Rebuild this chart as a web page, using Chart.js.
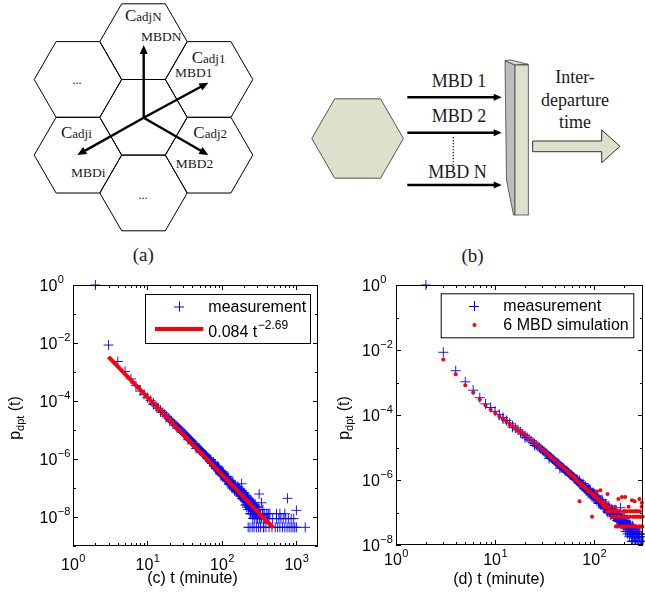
<!DOCTYPE html>
<html>
<head>
<meta charset="utf-8">
<script src="https://cdn.jsdelivr.net/npm/chart.js@4.4.1/dist/chart.umd.min.js"></script>
<style>
  html, body { margin: 0; padding: 0; background: #fff; }
  #page { position: relative; width: 645px; height: 593px; overflow: hidden; }
  #diagrams { position: absolute; left: 0; top: 0; }
  .box { position: absolute; top: 270px; height: 323px; }
  #boxC { left: 0; width: 330px; }
  #boxD { left: 330px; width: 315px; }
</style>
</head>
<body>
<div id="page">
  <svg id="diagrams" width="645" height="270" xmlns="http://www.w3.org/2000/svg"></svg>
  <div class="box" id="boxC"><canvas id="chartC" width="330" height="323"></canvas></div>
  <div class="box" id="boxD"><canvas id="chartD" width="315" height="323"></canvas></div>
</div>
<script>
'use strict';

/* ── data: [t (minute), p_dpt(t)] ── */
const measHead = [
  [2, 1.0], [3, 8.5e-3], [4, 2.3e-3], [5, 1.05e-3], [6, 5.8e-4], [7, 3.4e-4], [8, 2.2e-4], [9, 1.7e-4],
  [10, 1.3e-4], [11, 1.05e-4], [12, 8.4e-5], [12, 7.5e-5], [13, 6.8e-5], [14, 5.6e-5], [15, 4.7e-5],
  [15, 4.2e-5], [16, 4.0e-5], [17, 3.5e-5], [18, 3.0e-5], [19, 2.6e-5], [20, 2.3e-5], [20, 2.0e-5],
  [21, 2.05e-5], [22, 1.8e-5], [23, 1.62e-5], [24, 1.45e-5], [25, 1.32e-5], [25, 1.15e-5], [26, 1.2e-5],
  [27, 1.08e-5], [28, 9.9e-6], [29, 9.1e-6], [30, 8.3e-6], [31, 7.7e-6], [32, 7.0e-6], [33, 6.5e-6],
  [34, 6.0e-6], [35, 5.5e-6], [35, 4.6e-6], [36, 5.1e-6], [37, 4.8e-6], [38, 4.4e-6], [39, 4.15e-6],
  [40, 3.9e-6], [41, 3.5e-6], [42, 3.4e-6], [43, 3.3e-6], [44, 3.0e-6], [45, 2.8e-6], [45, 2.3e-6],
  [46, 2.65e-6], [47, 2.4e-6], [48, 2.35e-6], [49, 2.3e-6], [50, 2.1e-6], [51, 1.9e-6], [52, 1.95e-6],
  [53, 1.9e-6], [54, 1.75e-6], [55, 1.65e-6], [56, 1.6e-6], [57, 1.45e-6], [58, 1.45e-6], [59, 1.4e-6],
  [60, 1.3e-6]
];
const measBody = [
  [62, 1.25e-6], [63, 1.1e-6], [64, 1.1e-6], [65, 1.05e-6], [66, 1.02e-6], [67, 1.05e-6], [68, 9.4e-7],
  [69, 8.3e-7], [70, 8.6e-7], [71, 9.6e-7], [72, 8.0e-7], [73, 7.0e-7], [74, 7.2e-7], [75, 7.0e-7],
  [76, 6.9e-7], [77, 7.8e-7], [78, 6.2e-7], [79, 5.5e-7], [80, 6.0e-7], [81, 6.6e-7], [82, 5.4e-7],
  [83, 4.6e-7], [84, 5.2e-7], [85, 4.8e-7], [86, 4.9e-7], [87, 5.6e-7], [88, 4.4e-7], [89, 3.9e-7],
  [90, 4.3e-7], [90, 5.2e-7], [91, 4.8e-7], [92, 4.0e-7], [93, 3.5e-7], [94, 3.6e-7], [95, 3.9e-7],
  [95, 3.0e-7], [96, 3.4e-7], [97, 4.0e-7], [98, 3.2e-7], [99, 2.8e-7], [100, 3.3e-7], [101, 3.7e-7],
  [102, 2.6e-7], [103, 2.9e-7], [105, 2.7e-7], [105, 3.2e-7], [107, 3.0e-7], [108, 2.6e-7], [110, 2.3e-7],
  [110, 1.9e-7], [112, 2.4e-7], [113, 2.0e-7], [115, 2.0e-7], [116, 2.4e-7], [117, 1.7e-7], [118, 1.9e-7],
  [120, 2.0e-7], [120, 2.5e-7], [122, 2.1e-7], [123, 1.7e-7], [125, 1.65e-7], [125, 1.4e-7], [127, 1.3e-7],
  [128, 1.5e-7], [130, 1.55e-7], [130, 1.8e-7], [132, 1.6e-7], [133, 1.35e-7], [135, 1.4e-7], [135, 1.1e-7],
  [137, 1.0e-7], [138, 1.2e-7], [140, 1.3e-7], [140, 1.6e-7], [142, 1.35e-7], [143, 1.1e-7], [145, 1.15e-7],
  [145, 9.2e-8], [147, 8.4e-8], [148, 1.0e-7], [150, 1.05e-7], [150, 1.3e-7], [152, 1.1e-7], [155, 9.2e-8],
  [157, 7.5e-8], [158, 8.8e-8], [160, 9.6e-8], [160, 7.5e-8], [162, 1.0e-7], [163, 7.9e-8], [165, 8.3e-8],
  [165, 1.1e-7], [167, 6.6e-8], [170, 7.0e-8], [170, 5.7e-8], [172, 7.5e-8], [173, 9.2e-8], [175, 6.6e-8],
  [175, 8.8e-8], [177, 5.3e-8], [178, 6.1e-8], [180, 7.0e-8], [180, 5.3e-8], [182, 7.9e-8], [184, 1.4e-7],
  [185, 5.7e-8], [185, 8.0e-8], [187, 4.4e-8], [188, 5.3e-8], [190, 6.1e-8], [190, 4.4e-8], [192, 6.6e-8],
  [195, 4.8e-8], [195, 7.0e-8], [197, 3.9e-8], [198, 5.3e-8], [200, 4.4e-8]
];
const measTail = [
  [202, 6.6e-8], [204, 3.5e-8], [205, 4.8e-8], [207, 2.6e-8], [208, 5.7e-8], [210, 3.5e-8], [211, 5.3e-8],
  [212, 4.4e-8], [214, 2.6e-8], [215, 3.1e-8], [216, 2.2e-8], [218, 3.9e-8], [219, 4.8e-8], [220, 2.6e-8],
  [222, 3.5e-8], [224, 4.4e-8], [225, 3.1e-8], [225, 4.4e-9], [226, 1.8e-8], [228, 2.2e-8], [229, 3.9e-8],
  [230, 3.5e-8], [232, 2.6e-8], [234, 3.1e-8], [235, 2.2e-8], [236, 2.6e-8], [238, 1.3e-8], [238, 4.4e-9],
  [240, 3.1e-8], [242, 1.3e-8], [243, 2.2e-8], [244, 3.9e-8], [245, 1.8e-8], [246, 3.5e-8], [248, 2.6e-8],
  [250, 2.2e-8], [252, 1.3e-8], [255, 1.8e-8], [255, 4.4e-9], [257, 3.1e-8], [258, 2.6e-8], [260, 1.3e-8],
  [260, 8.8e-9], [262, 3.1e-8], [264, 1.3e-8], [265, 2.2e-8], [268, 2.6e-8], [270, 1.8e-8], [270, 4.4e-9],
  [272, 2.2e-8], [275, 1.3e-8], [276, 8.8e-9], [278, 2.6e-8], [280, 2.2e-8], [282, 1.3e-8], [285, 1.8e-8],
  [288, 2.2e-8], [290, 1.3e-8], [290, 4.4e-9], [295, 8.8e-9], [300, 1.8e-8], [300, 8.8e-9], [305, 2.2e-8],
  [310, 1.3e-8], [310, 4.4e-9], [315, 1.8e-8], [316, 6.2e-8], [320, 8.8e-9], [325, 1.3e-8], [330, 1.3e-8],
  [330, 4.4e-9], [335, 8.8e-9], [340, 3.1e-8], [340, 8.8e-9], [350, 1.3e-8], [355, 1.8e-8], [360, 8.8e-9],
  [360, 4.4e-9], [365, 4.4e-9], [370, 1.3e-8], [375, 8.8e-9], [380, 8.8e-9], [390, 4.4e-9], [395, 8.8e-9],
  [400, 1.3e-8], [410, 8.8e-9], [420, 1.3e-8], [430, 4.4e-9], [430, 8.8e-9], [440, 1.3e-8], [470, 4.4e-9],
  [480, 8.8e-9], [520, 4.4e-9], [540, 8.8e-9], [540, 1.3e-8], [560, 4.4e-9], [580, 8.8e-9], [600, 4.4e-9],
  [600, 1.3e-8], [620, 8.8e-9], [650, 4.4e-9], [665, 8.8e-9], [700, 4.4e-9], [700, 1.3e-8], [720, 8.8e-9],
  [750, 4.4e-9], [760, 4.4e-8], [780, 8.8e-9], [800, 4.4e-9], [850, 4.4e-9], [850, 8.8e-9], [900, 4.4e-9],
  [920, 8.8e-9], [950, 4.4e-9], [1000, 4.4e-9], [1000, 1.7e-8], [1313, 4.4e-9]
];
const simHead = [
  [3, 5.1e-3], [4, 1.8e-3], [5, 8.3e-4], [6, 4.9e-4], [7, 3.0e-4], [8, 2.0e-4], [9, 1.45e-4], [10, 1.15e-4],
  [11, 9.3e-5], [12, 7.6e-5], [13, 6.4e-5], [14, 5.4e-5], [15, 4.6e-5], [16, 4.0e-5], [17, 3.4e-5],
  [18, 3.0e-5], [19, 2.65e-5], [20, 2.35e-5], [22, 1.85e-5], [24, 1.5e-5], [26, 1.25e-5], [28, 1.05e-5],
  [30, 8.6e-6], [32, 7.4e-6], [34, 6.2e-6], [36, 5.4e-6], [38, 4.6e-6], [40, 4.0e-6]
];
const simBody = [
  [43, 3.3e-6], [45, 2.9e-6], [46, 2.8e-6], [48, 2.5e-6], [50, 2.2e-6], [53, 1.9e-6], [55, 1.75e-6],
  [56, 1.6e-6], [58, 1.45e-6], [60, 1.35e-6], [62, 1.25e-6], [63, 1.15e-6], [65, 1.1e-6], [66, 1.0e-6],
  [68, 9.2e-7], [70, 8.6e-7], [71, 2.2e-7], [72, 8.0e-7], [73, 7.7e-7], [75, 7.0e-7], [76, 6.6e-7],
  [78, 6.4e-7], [80, 5.9e-7], [82, 5.5e-7], [84, 5.2e-7], [86, 4.8e-7], [88, 4.4e-7], [90, 4.4e-7],
  [92, 4.1e-7], [95, 7.4e-8], [96, 3.7e-7], [98, 3.3e-7], [100, 3.3e-7], [102, 3.0e-7], [104, 3.0e-7],
  [106, 4.4e-7], [108, 2.6e-7], [110, 2.6e-7], [112, 2.2e-7], [115, 4.8e-7], [116, 2.2e-7], [118, 2.2e-7],
  [120, 1.85e-7], [124, 1.85e-7], [125, 1.5e-7], [128, 1.5e-7], [130, 1.85e-7], [132, 1.5e-7], [135, 1.5e-7],
  [136, 3.7e-7], [136, 1.1e-7], [140, 1.1e-7], [142, 1.5e-7], [145, 1.1e-7], [148, 1.1e-7], [150, 7.4e-8]
];
const simTail = [
  [152, 7.4e-8], [155, 1.1e-7], [158, 1.1e-7], [160, 7.4e-8], [162, 1.5e-7], [165, 3.7e-8], [168, 1.1e-7],
  [170, 7.4e-8], [172, 3.7e-8], [175, 1.1e-7], [175, 2.6e-7], [178, 7.4e-8], [180, 3.7e-8], [182, 1.1e-7],
  [185, 7.4e-8], [188, 3.7e-8], [190, 3.0e-7], [192, 7.4e-8], [195, 3.7e-8], [198, 1.1e-7], [200, 7.4e-8],
  [202, 1.1e-7], [205, 3.7e-8], [205, 3.0e-7], [208, 7.4e-8], [210, 3.7e-8], [212, 1.1e-7], [215, 7.4e-8],
  [218, 3.7e-8], [222, 1.5e-7], [225, 3.7e-8], [228, 1.1e-7], [230, 7.4e-8], [235, 1.1e-7], [238, 3.7e-8],
  [240, 2.4e-7], [245, 7.4e-8], [248, 1.1e-7], [250, 3.7e-8], [252, 7.4e-8], [255, 3.7e-8], [255, 2.2e-7],
  [258, 7.4e-8], [260, 1.1e-7], [265, 3.7e-8], [268, 1.1e-7], [270, 7.4e-8], [275, 1.1e-7], [278, 7.4e-8],
  [280, 3.7e-8], [285, 3.7e-8], [285, 2.6e-7], [288, 1.1e-7], [290, 7.4e-8], [295, 7.4e-8], [298, 3.7e-8],
  [300, 3.7e-8], [300, 1.5e-7], [302, 2.0e-7], [305, 3.7e-8], [308, 7.4e-8]
];
// fitted power law 0.084 t^-2.69, end points as drawn
const fitLine = [[3, 3.3e-3], [490, 4.2e-9]];

const xTicksC = [1, 10, 100, 1000];
const xTicksD = [1, 10, 100];
const yTicks  = [1, 1e-2, 1e-4, 1e-6, 1e-8];

const SANS  = '"Liberation Sans", Arial, Helvetica, sans-serif';
const SERIF = '"Liberation Serif", "Times New Roman", serif';

/* ═══════════════════════════════════════════════════════════
 *  DIAGRAMS (a) and (b)
 * ═══════════════════════════════════════════════════════════ */
function hexPts(cx, cy, s) {
  const h = s * Math.sqrt(3) / 2;
  return [[cx - s, cy], [cx - s / 2, cy - h], [cx + s / 2, cy - h], [cx + s, cy], [cx + s / 2, cy + h], [cx - s / 2, cy + h]]
    .map(p => p[0].toFixed(1) + ',' + p[1].toFixed(1)).join(' ');
}

function arrow(x1, y1, x2, y2, w, hl, hw) {
  const L = Math.hypot(x2 - x1, y2 - y1), ux = (x2 - x1) / L, uy = (y2 - y1) / L;
  const bx = x2 - ux * hl, by = y2 - uy * hl, px = -uy * hw / 2, py = ux * hw / 2;
  return `<line x1="${x1}" y1="${y1}" x2="${(bx + ux).toFixed(1)}" y2="${(by + uy).toFixed(1)}" stroke="#000" stroke-width="${w}"/>` +
    `<polygon points="${x2},${y2} ${(bx + px).toFixed(1)},${(by + py).toFixed(1)} ${(bx - px).toFixed(1)},${(by - py).toFixed(1)}" fill="#000"/>`;
}

function cellLabel(x, y, sub) {
  return `<text x="${x}" y="${y}" font-family='${SERIF}' fill="#1a1a1a"><tspan font-size="17">C</tspan><tspan font-size="13">${sub}</tspan></text>`;
}
function txt(x, y, s, size, anchor, family) {
  return `<text x="${x}" y="${y}" font-size="${size}" text-anchor="${anchor || 'start'}" font-family='${family || SERIF}' fill="#1a1a1a">${s}</text>`;
}

function drawDiagrams() {
  const s = 43.7, h = s * Math.sqrt(3) / 2, cx = 143.5, cy = 117.3;
  let out = '';
  const centres = [[0, 0], [0, -2 * h], [0, 2 * h], [1.5 * s, -h], [1.5 * s, h], [-1.5 * s, -h], [-1.5 * s, h]];
  centres.forEach(c => {
    out += `<polygon points="${hexPts(cx + c[0], cy + c[1], s)}" fill="none" stroke="#000" stroke-width="1"/>`;
  });
  const ox = 143.7, oy = 117.7;
  out += arrow(ox, oy, 143.7, 45, 2.4, 9, 8);
  out += arrow(ox, oy, 208.3, 82.7, 2.4, 9, 8);
  out += arrow(ox, oy, 208.3, 155, 2.4, 9, 8);
  out += arrow(ox, oy, 77.3, 155, 2.4, 9, 8);

  out += cellLabel(125, 20.7, 'adjN') + cellLabel(191.7, 63.3, 'adj1') + cellLabel(61, 138.3, 'adji') + cellLabel(193.3, 137.7, 'adj2');
  out += txt(141, 41, 'MBDN', 13.5) + txt(175, 76.7, 'MBD1', 13.5) + txt(71, 177.3, 'MBDi', 13.5) + txt(175.7, 168.3, 'MBD2', 13.5);
  out += txt(77, 84, '...', 12, 'middle') + txt(143, 199, '...', 12, 'middle');
  out += txt(143.3, 261, '(a)', 19, 'middle');

  // (b) one cell feeding N MBD streams into the slab
  const fillG = '#dde0cb';
  out += `<polygon points="${hexPts(357.6, 138.5, 45.8)}" fill="${fillG}" stroke="#555" stroke-width="1"/>`;
  out += arrow(407.3, 97.3, 501.7, 97.3, 2.6, 8, 7);
  out += arrow(407.3, 132.7, 501.7, 132.7, 2.6, 8, 7);
  out += arrow(407.3, 185, 501.7, 185, 2.6, 8, 7);
  out += `<line x1="453.3" y1="137" x2="453.3" y2="165" stroke="#333" stroke-width="1.4" stroke-dasharray="1.3 1.7"/>`;
  out += txt(431.7, 86.7, 'MBD 1', 18) + txt(431.7, 121.7, 'MBD 2', 18) + txt(428.3, 178.3, 'MBD N', 18);
  out += `<polygon points="505,60.7 515,65 515,215 513.5,215 506.5,180" fill="#bdbdbd" stroke="#444" stroke-width="0.8"/>`;
  out += `<polygon points="505,60.7 510,59.8 528.3,64.3 515,65" fill="#d6d6d6" stroke="#444" stroke-width="0.8"/>`;
  out += `<rect x="515" y="65" width="13.3" height="150" fill="${fillG}" stroke="#444" stroke-width="0.8"/>`;
  out += `<polygon points="532.7,141 601.7,141 601.7,130 620,146.3 601.7,162.7 601.7,151.7 532.7,151.7" fill="${fillG}" stroke="#333" stroke-width="1"/>`;
  out += txt(575, 83, 'Inter-', 18, 'middle') + txt(575, 105.5, 'departure', 18, 'middle') + txt(575, 127.5, 'time', 18, 'middle');
  out += txt(472.5, 262, '(b)', 19, 'middle');

  document.getElementById('diagrams').innerHTML = out;
}

/* ═══════════════════════════════════════════════════════════
 *  MATLAB-STYLE AXES (frame, inward ticks, 10^k labels, legend)
 * ═══════════════════════════════════════════════════════════ */
function drawPow(ctx, x, base, exp, align) {
  const e = exp === 0 ? '0' : (exp < 0 ? '\u2212' + (-exp) : String(exp));
  ctx.font = '16px ' + SANS;
  const w1 = ctx.measureText('10').width;
  ctx.font = '11px ' + SANS;
  const w2 = ctx.measureText(e).width;
  const x0 = align === 'center' ? x - (w1 + w2) / 2 : x;
  ctx.textAlign = 'left';
  ctx.textBaseline = 'alphabetic';
  ctx.font = '16px ' + SANS;
  ctx.fillText('10', x0, base);
  ctx.font = '11px ' + SANS;
  ctx.fillText(e, x0 + w1 + 0.5, base - 7.7);
}

function axesPlugin(cfg) {
  return {
    id: 'matlabAxes',
    afterDraw(chart) {
      const ctx = chart.ctx, a = chart.chartArea;
      const xs = chart.scales.x, ys = chart.scales.y;
      ctx.save();
      ctx.strokeStyle = '#000';
      ctx.fillStyle = '#000';
      ctx.lineWidth = 1;

      // inward ticks on all four sides
      ctx.beginPath();
      for (let k = 0; k <= Math.ceil(Math.log10(xs.max)); k++) {
        for (let m = 1; m < 10; m++) {
          const v = m * Math.pow(10, k);
          if (v > xs.max) break;
          const px = Math.round(xs.getPixelForValue(v)) + 0.5;
          const len = m === 1 ? 5 : 3;
          ctx.moveTo(px, a.bottom); ctx.lineTo(px, a.bottom - len);
          ctx.moveTo(px, a.top); ctx.lineTo(px, a.top + len);
        }
      }
      for (let k = Math.round(Math.log10(ys.min)); k <= 0; k++) {
        const py = Math.round(ys.getPixelForValue(Math.pow(10, k))) + 0.5;
        const len = k % 2 === 0 ? 5 : 3;
        ctx.moveTo(a.left, py); ctx.lineTo(a.left + len, py);
        ctx.moveTo(a.right, py); ctx.lineTo(a.right - len, py);
      }
      ctx.stroke();
      ctx.strokeRect(Math.round(a.left) + 0.5, Math.round(a.top) + 0.5, Math.round(a.right - a.left) - 1, Math.round(a.bottom - a.top) - 1);

      // tick labels
      cfg.xTicks.forEach(v => drawPow(ctx, xs.getPixelForValue(v), cfg.xLabelBase, Math.round(Math.log10(v)), 'center'));
      yTicks.forEach(v => {
        const py = ys.getPixelForValue(v);
        drawPow(ctx, cfg.yLabelX, py + 6, Math.round(Math.log10(v)), 'left');
      });

      // x title
      ctx.font = '16px ' + SANS;
      ctx.textAlign = 'center';
      ctx.fillText(cfg.xTitle, cfg.xTitleX, cfg.xTitleBase);

      // y title p_dpt (t), rotated
      ctx.save();
      ctx.translate(cfg.yTitleBase, cfg.yTitleY);
      ctx.rotate(-Math.PI / 2);
      ctx.textAlign = 'left';
      ctx.font = '16px ' + SANS;
      const wp = ctx.measureText('p').width, wt = ctx.measureText(' (t)').width;
      ctx.font = '11px ' + SANS;
      const wd = ctx.measureText('dpt').width;
      let x0 = -(wp + wd + wt) / 2;
      ctx.font = '16px ' + SANS;
      ctx.fillText('p', x0, 0);
      ctx.font = '11px ' + SANS;
      ctx.fillText('dpt', x0 + wp, 4);
      ctx.font = '16px ' + SANS;
      ctx.fillText(' (t)', x0 + wp + wd, 0);
      ctx.restore();

      // legend
      const L = cfg.legend;
      ctx.fillStyle = '#fff';
      ctx.fillRect(L.x, L.y, L.w, L.h);
      ctx.strokeStyle = '#000';
      ctx.strokeRect(L.x + 0.5, L.y + 0.5, L.w, L.h);
      ctx.strokeStyle = '#0000ff';
      ctx.beginPath();
      ctx.moveTo(L.mx - 5, L.row1 + 0.5); ctx.lineTo(L.mx + 5, L.row1 + 0.5);
      ctx.moveTo(L.mx + 0.5, L.row1 - 5); ctx.lineTo(L.mx + 0.5, L.row1 + 5);
      ctx.stroke();
      if (L.fit) {
        ctx.strokeStyle = '#ff0000';
        ctx.lineWidth = 4;
        ctx.beginPath();
        ctx.moveTo(L.lx1, L.row2); ctx.lineTo(L.lx2, L.row2);
        ctx.stroke();
      } else {
        ctx.fillStyle = '#ff0000';
        ctx.beginPath();
        ctx.arc(L.mx + 0.5, L.row2, 2, 0, Math.PI * 2);
        ctx.fill();
      }
      ctx.fillStyle = '#000';
      ctx.textAlign = 'left';
      ctx.font = '16px ' + SANS;
      ctx.fillText('measurement', L.tx, L.base1);
      if (L.fit) {
        ctx.fillText('0.084 t', L.tx, L.base2);
        const w = ctx.measureText('0.084 t').width;
        ctx.font = '12px ' + SANS;
        ctx.fillText('\u22122.69', L.tx + w + 0.5, L.base2 - 8);
      } else {
        ctx.fillText('6 MBD simulation', L.tx, L.base2);
      }
      ctx.restore();
    }
  };
}

function pts(...lists) {
  return [].concat(...lists).map(([x, y]) => ({ x, y }));
}

function makeChart(id, datasets, xMax, yMin, cfg) {
  return new Chart(document.getElementById(id), {
    type: 'scatter',
    data: { datasets },
    options: {
      responsive: false,
      animation: false,
      events: [],
      layout: { autoPadding: false, padding: { top: 15, right: cfg.padRight, left: 0, bottom: 0 } },
      plugins: { legend: { display: false }, tooltip: { enabled: false } },
      scales: {
        x: {
          type: 'logarithmic', min: 1, max: xMax,
          grid: { display: false }, border: { display: false }, ticks: { display: false },
          afterFit: s => { s.height = cfg.xAxisH; },
        },
        y: {
          type: 'logarithmic', min: yMin, max: 1,
          grid: { display: false }, border: { display: false }, ticks: { display: false },
          afterFit: s => { s.width = cfg.yAxisW; },
        },
      },
    },
    plugins: [axesPlugin(cfg)],
  });
}

const measStyle = {
  pointStyle: 'cross', pointRadius: 5, borderWidth: 1,
  borderColor: 'rgba(0,0,255,0.9)', backgroundColor: 'rgba(0,0,255,0.9)',
};

document.addEventListener('DOMContentLoaded', () => {
  drawDiagrams();

  makeChart('chartC', [
    Object.assign({ label: 'measurement', data: pts(measHead, measBody, measTail), order: 1, clip: false }, measStyle),
    {
      label: '0.084 t^-2.69', data: pts(fitLine), showLine: true, order: 0,
      borderColor: '#ff0000', borderWidth: 4, pointRadius: 0, borderCapStyle: 'butt',
    },
  ], 1950, 1e-9, {
    padRight: 12, xAxisH: 47, yAxisW: 73,
    xTicks: xTicksC, xLabelBase: 300, yLabelX: 39.5,
    xTitle: '(c) t (minute)', xTitleX: 192.5, xTitleBase: 313,
    yTitleBase: 20, yTitleY: 148,
    legend: { x: 145, y: 24, w: 165, h: 49, mx: 179, row1: 36.5, row2: 59, lx1: 155, lx2: 203.3,
              tx: 208.3, base1: 41.7, base2: 66.7, fit: true },
  });

  makeChart('chartD', [
    Object.assign({ label: 'measurement', data: pts(measHead, measBody, measTail), order: 1,
                    clip: { left: 6, top: 6, right: 6, bottom: 0 } }, measStyle),
    {
      label: '6 MBD simulation', data: pts(simHead, simBody, simTail), order: 0,
      clip: { left: 6, top: 6, right: 6, bottom: 0 },
      pointStyle: 'circle', pointRadius: 2, borderWidth: 0,
      backgroundColor: '#ff0000', borderColor: '#ff0000',
    },
  ], 310, 1e-8, {
    padRight: 2, xAxisH: 48, yAxisW: 66,
    xTicks: xTicksD, xLabelBase: 295, yLabelX: 32,
    xTitle: '(d) t (minute)', xTitleX: 169, xTitleBase: 314,
    yTitleBase: 19, yTitleY: 148,
    legend: { x: 110.7, y: 23.3, w: 192.6, h: 44, mx: 144, row1: 36, row2: 55,
              tx: 173.3, base1: 40.7, base2: 60, fit: false },
  });
});
</script>
</body>
</html>
